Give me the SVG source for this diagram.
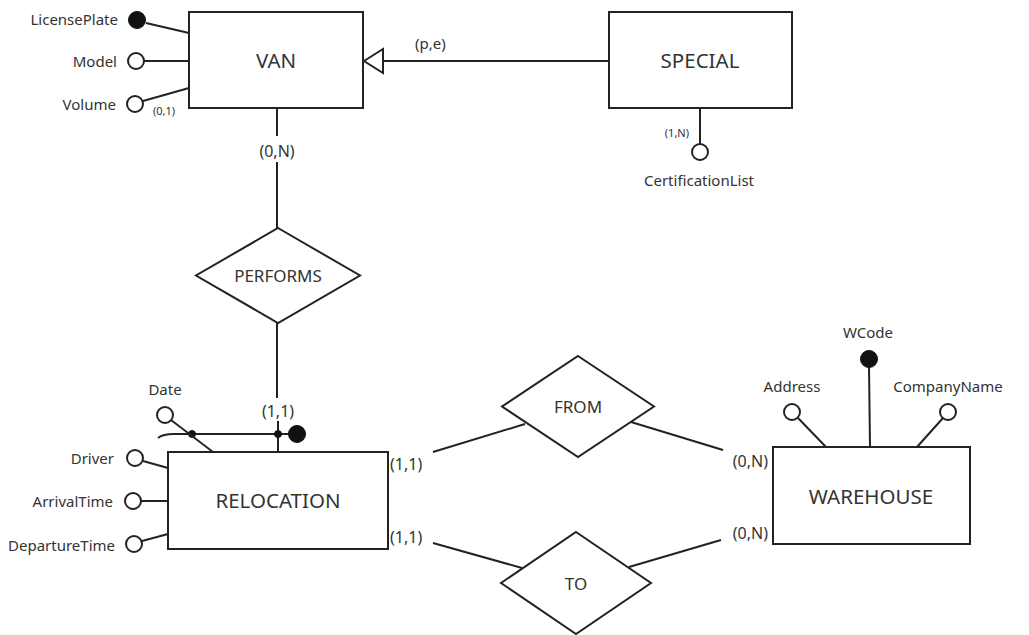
<svg xmlns="http://www.w3.org/2000/svg" width="1029" height="635" viewBox="0 0 1029 635">
<style>
.s{fill:none;stroke:#222;stroke-width:2}
.b{fill:#fff;stroke:#222;stroke-width:2}
.o{fill:#fff;stroke:#222;stroke-width:2}
.k{fill:#111;stroke:#111;stroke-width:1}
text{font-family:"Noto Sans","Open Sans","DejaVu Sans",sans-serif;fill:#333}
.e{font-size:20.5px;text-anchor:middle;dominant-baseline:central}
.r{font-size:17px;text-anchor:middle;dominant-baseline:central}
.a{font-size:15px}
.c{font-size:16px}
.m{font-size:11px}
.end{text-anchor:end}
.mid{text-anchor:middle}
</style>
<rect width="1029" height="635" fill="#fff"/>
<g id="connectors">
<line class="s" x1="383" y1="61" x2="609" y2="61"/>
<polygon class="b" points="364,61 383,49 383,73"/>
<line class="s" x1="277" y1="108" x2="277" y2="136"/>
<line class="s" x1="277" y1="162" x2="277" y2="228"/>
<line class="s" x1="277" y1="323" x2="277" y2="398"/>
<line class="s" x1="278" y1="421" x2="278" y2="452"/>
<line class="s" x1="433" y1="452" x2="525" y2="424"/>
<line class="s" x1="631" y1="422" x2="723" y2="450"/>
<line class="s" x1="433" y1="543" x2="522" y2="568"/>
<line class="s" x1="629" y1="567" x2="721" y2="540"/>
</g>
<g id="van">
<rect class="b" x="189" y="12" width="174" height="96"/>
<text class="e" x="276" y="60">VAN</text>
</g>
<g id="van-attrs">
<line class="s" x1="146" y1="23" x2="189" y2="33"/>
<circle class="k" cx="137" cy="20" r="8.5"/>
<text class="a end" x="118" y="25">LicensePlate</text>
<line class="s" x1="144" y1="61" x2="189" y2="61"/>
<circle class="o" cx="136" cy="61" r="8"/>
<text class="a end" x="117" y="67">Model</text>
<line class="s" x1="143" y1="101" x2="189" y2="88"/>
<circle class="o" cx="135" cy="104" r="8"/>
<text class="a end" x="116" y="110">Volume</text>
<text class="m" x="153" y="115">(0,1)</text>
</g>
<g id="special">
<rect class="b" x="609" y="12" width="183" height="96"/>
<text class="e" x="700" y="60">SPECIAL</text>
<text class="a" x="415" y="49">(p,e)</text>
<line class="s" x1="700" y1="108" x2="700" y2="144"/>
<circle class="o" cx="700" cy="152" r="8"/>
<text class="m end" x="689" y="137">(1,N)</text>
<text class="a mid" x="699" y="186">CertificationList</text>
</g>
<g id="performs">
<polygon class="b" points="278,228 360,275.5 278,323 196,275.5"/>
<text class="r" x="278" y="275">PERFORMS</text>
<text class="c mid" x="277" y="157">(0,N)</text>
<text class="c mid" x="278" y="417">(1,1)</text>
</g>
<g id="relocation">
<rect class="b" x="168" y="452" width="220" height="97"/>
<text class="e" x="278" y="500">RELOCATION</text>
<text class="c" x="390" y="470">(1,1)</text>
<text class="c" x="390" y="543">(1,1)</text>
</g>
<g id="relocation-attrs">
<path class="s" d="M158,438 Q163,434 174,434 L297,434"/>
<circle class="k" cx="192" cy="434" r="3.5"/>
<circle class="k" cx="278" cy="434" r="3.5"/>
<circle class="k" cx="297" cy="434" r="8.5"/>
<line class="s" x1="171" y1="420" x2="213" y2="452"/>
<circle class="o" cx="165" cy="415" r="8"/>
<text class="a mid" x="165" y="395">Date</text>
<line class="s" x1="143" y1="461" x2="168" y2="468"/>
<circle class="o" cx="135" cy="458" r="8"/>
<text class="a end" x="114" y="464">Driver</text>
<line class="s" x1="141" y1="501" x2="168" y2="501"/>
<circle class="o" cx="133" cy="501" r="8"/>
<text class="a end" x="113" y="507">ArrivalTime</text>
<line class="s" x1="142" y1="541" x2="168" y2="534"/>
<circle class="o" cx="134" cy="544" r="8"/>
<text class="a end" x="115" y="551">DepartureTime</text>
</g>
<g id="from">
<polygon class="b" points="578,356 654,406.5 578,457 502,406.5"/>
<text class="r" x="578" y="406">FROM</text>
</g>
<g id="to">
<polygon class="b" points="576,532 651,583 576,634 501,583"/>
<text class="r" x="576" y="583">TO</text>
</g>
<g id="warehouse">
<rect class="b" x="773" y="447" width="197" height="97"/>
<text class="e" x="871" y="496">WAREHOUSE</text>
<text class="c end" x="768" y="467">(0,N)</text>
<text class="c end" x="768" y="539">(0,N)</text>
</g>
<g id="warehouse-attrs">
<line class="s" x1="869" y1="366" x2="870" y2="447"/>
<circle class="k" cx="869" cy="359" r="8.5"/>
<text class="a mid" x="868" y="338">WCode</text>
<line class="s" x1="798" y1="418" x2="826" y2="447"/>
<circle class="o" cx="792" cy="412" r="8"/>
<text class="a mid" x="792" y="392">Address</text>
<line class="s" x1="943" y1="418" x2="917" y2="447"/>
<circle class="o" cx="948" cy="412" r="8"/>
<text class="a mid" x="948" y="392">CompanyName</text>
</g>
</svg>
